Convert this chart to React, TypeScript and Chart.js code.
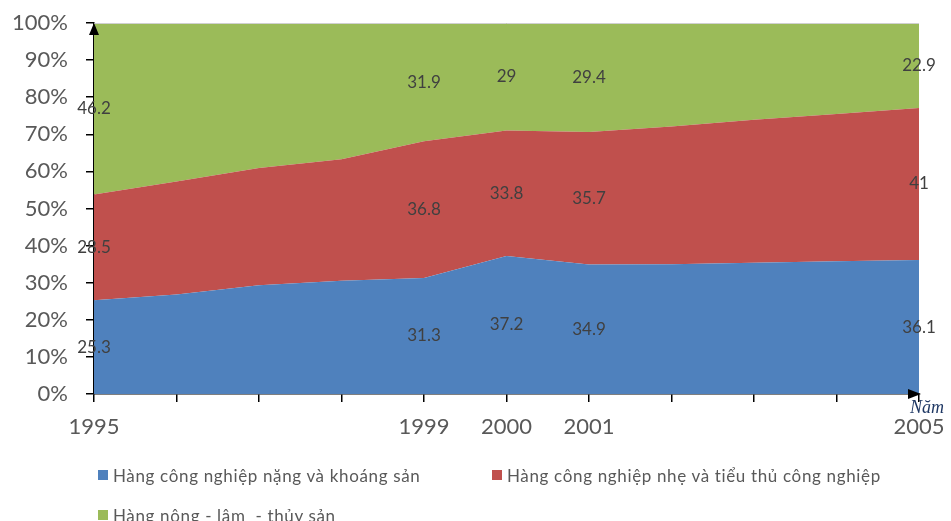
import { useEffect, useRef } from 'react';
import { Chart, registerables } from 'chart.js';

Chart.register(...registerables);

// ---- Data ----
const years = ['1995', '1996', '1997', '1998', '1999', '2000', '2001', '2002', '2003', '2004', '2005'];
const labeledYears = ['1995', '1999', '2000', '2001', '2005'];
const heavyIndustry = [25.3, 26.8, 29.3, 30.5, 31.3, 37.2, 34.9, 35.0, 35.4, 35.8, 36.1];
const lightIndustry = [28.5, 30.5, 31.6, 32.8, 36.8, 33.8, 35.7, 37.1, 38.5, 39.7, 41];
const agriFishery = [46.2, 42.7, 39.1, 36.7, 31.9, 29, 29.4, 27.9, 26.1, 24.5, 22.9];
const seriesNames = [
  'Hàng công nghiệp nặng và khoáng sản',
  'Hàng công nghiệp nhẹ và tiểu thủ công nghiệp',
  'Hàng nông - lâm  - thủy sản',
];
const seriesColors = ['#4F81BD', '#C0504D', '#9BBB59'];
const xAxisTitle = 'Năm';

const FONT = 'Lato, "Open Sans", sans-serif';

const valueLabelsPlugin = {
  id: 'valueLabels',
  afterDatasetsDraw(chart: any) {
    const { ctx, scales } = chart;
    const xs = scales.x;
    const ys = scales.y;
    const all = [heavyIndustry, lightIndustry, agriFishery];
    ctx.save();
    ctx.font = `17px ${FONT}`;
    ctx.fillStyle = '#404040';
    ctx.textAlign = 'center';
    ctx.textBaseline = 'middle';
    years.forEach((yr, i) => {
      if (!labeledYears.includes(yr)) return;
      let base = 0;
      all.forEach((arr) => {
        const v = arr[i];
        const yc = (ys.getPixelForValue(base) + ys.getPixelForValue(base + v)) / 2;
        ctx.fillText(String(v), xs.getPixelForValue(i), yc);
        base += v;
      });
    });
    ctx.restore();
  },
};

const axisArrowsPlugin = {
  id: 'axisArrows',
  afterDraw(chart: any) {
    const { ctx, chartArea } = chart;
    const { left, right, top, bottom } = chartArea;
    ctx.save();
    // light plot top border
    ctx.strokeStyle = '#D0D0D0';
    ctx.lineWidth = 1;
    ctx.beginPath();
    ctx.moveTo(left, top + 0.5);
    ctx.lineTo(right, top + 0.5);
    ctx.stroke();
    ctx.fillStyle = '#000';
    // y arrow
    ctx.beginPath();
    ctx.moveTo(left, top);
    ctx.lineTo(left - 5, top + 12);
    ctx.lineTo(left + 5, top + 12);
    ctx.closePath();
    ctx.fill();
    // x arrow
    ctx.beginPath();
    ctx.moveTo(right + 2, bottom);
    ctx.lineTo(right - 11, bottom - 5);
    ctx.lineTo(right - 11, bottom + 5);
    ctx.closePath();
    ctx.fill();
    // axis title
    ctx.font = 'italic 18px "Liberation Serif", "DejaVu Serif", serif';
    ctx.fillStyle = '#1F3864';
    ctx.textAlign = 'left';
    ctx.textBaseline = 'alphabetic';
    ctx.fillText(xAxisTitle, right - 9, bottom + 19);
    ctx.restore();
  },
};

export default function App() {
  const canvasRef = useRef<HTMLCanvasElement | null>(null);

  useEffect(() => {
    if (!canvasRef.current) return;
    const chart = new Chart(canvasRef.current, {
      type: 'line',
      data: {
        labels: years,
        datasets: [heavyIndustry, lightIndustry, agriFishery].map((arr, k) => ({
          label: seriesNames[k],
          data: arr,
          backgroundColor: seriesColors[k],
          borderColor: seriesColors[k],
          borderWidth: 0,
          pointRadius: 0,
          fill: k === 0 ? 'origin' : '-1',
          tension: 0,
        })),
      },
      options: {
        animation: false,
        responsive: false,
        devicePixelRatio: 1,
        layout: { padding: { left: 0, top: 23, right: 32, bottom: 0 } },
        plugins: {
          legend: { display: false },
          tooltip: { enabled: false },
        },
        scales: {
          x: {
            type: 'category',
            offset: false,
            grid: { drawOnChartArea: false, drawTicks: true, tickLength: 8, color: '#000', lineWidth: 1.5 },
            border: { color: '#000', width: 1.5 },
            ticks: {
              autoSkip: false,
              maxRotation: 0,
              padding: 12,
              color: '#595959',
              font: { family: FONT, size: 22 },
              callback: (_v: any, i: number) => (labeledYears.includes(years[i]) ? years[i] : ''),
            },
            afterFit: (scale: any) => {
              scale.height = 127;
              scale.paddingLeft = 0;
              scale.paddingRight = 0;
            },
          },
          y: {
            stacked: true,
            min: 0,
            max: 100,
            grid: { drawOnChartArea: false, drawTicks: true, tickLength: 8, color: '#000', lineWidth: 1.5 },
            border: { color: '#000', width: 1.5 },
            ticks: {
              stepSize: 10,
              padding: 18,
              color: '#595959',
              font: { family: FONT, size: 22 },
              callback: (v: any) => `${v}%`,
            },
            afterFit: (scale: any) => {
              scale.width = 94;
              scale.paddingTop = 0;
              scale.paddingBottom = 0;
            },
          },
        },
      },
      plugins: [valueLabelsPlugin, axisArrowsPlugin],
    });
    return () => chart.destroy();
  }, []);

  const legendItems = [
    { left: 98, top: 470, i: 0 },
    { left: 492, top: 470, i: 1 },
    { left: 98, top: 510, i: 2 },
  ];

  return (
    <div style={{ position: 'absolute', left: 0, top: 0, width: 951, height: 521, background: '#fff' }}>
      <canvas ref={canvasRef} width={951} height={521} style={{ width: 951, height: 521, display: 'block' }} />
      {legendItems.map((it) => (
        <div
          key={it.i}
          style={{
            position: 'absolute',
            left: it.left,
            top: it.top - 5,
            height: 20,
            display: 'flex',
            alignItems: 'center',
            whiteSpace: 'pre',
            fontFamily: FONT,
            fontSize: 17,
            letterSpacing: '0.65px',
            color: '#595959',
          }}
        >
          <span style={{ width: 10, height: 10, background: seriesColors[it.i], display: 'inline-block', marginRight: 5 }} />
          <span>{seriesNames[it.i]}</span>
        </div>
      ))}
    </div>
  );
}
